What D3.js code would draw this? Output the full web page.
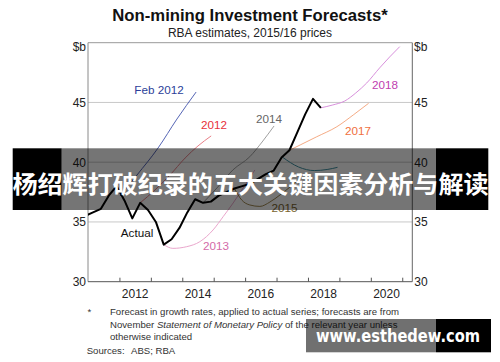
<!DOCTYPE html>
<html><head><meta charset="utf-8">
<script src="https://cdn.jsdelivr.net/npm/d3@7"></script>
<style>body{margin:0;background:#fff}svg{display:block}</style>
</head><body><svg id="c" width="500" height="362"></svg>
<script>
// ---- data ----
const tickYears = [2012, 2013, 2014, 2015, 2016, 2017, 2018, 2019, 2020, 2021];
const labelYears = [2012, 2014, 2016, 2018, 2020];
const yTicks = [30, 35, 40, 45];
const yDomain = [30, 50];
const xDomain = [2011, 2021.32];

const actualDates = [2010.91, 2011.16, 2011.41, 2011.66, 2011.91, 2012.16, 2012.41, 2012.66, 2012.91, 2013.16, 2013.41, 2013.66, 2013.91, 2014.16, 2014.41, 2014.66, 2014.91, 2015.16, 2015.41, 2015.66, 2015.91, 2016.16, 2016.41, 2016.66, 2016.91, 2017.16, 2017.41, 2017.66, 2017.91, 2018.16, 2018.41];
const actualValues = [35.5, 35.8, 36.1, 37.2, 38.0, 36.8, 35.3, 36.6, 36.0, 35.0, 33.1, 33.55, 34.5, 35.8, 36.9, 36.6, 36.7, 37.2, 37.5, 37.8, 38.0, 38.2, 38.6, 39.0, 39.3, 40.4, 41.0, 42.5, 44.0, 45.3, 44.55];

const feb2012Dates = [2012.02, 2012.56, 2013.23, 2013.83, 2014.44];
const feb2012Values = [37.17, 38.93, 41.19, 43.61, 45.87];
const f2012Dates = [2012.66, 2013.13, 2013.61, 2014.09, 2014.50, 2014.92];
const f2012Values = [36.6, 37.67, 38.93, 40.35, 41.36, 42.2];
const f2013Dates = [2013.41, 2013.70, 2014.14, 2014.56, 2014.98, 2015.30, 2015.62, 2016.0, 2016.31];
const f2013Values = [33.1, 32.79, 32.93, 33.35, 34.33, 35.44, 36.59, 38.1, 39.35];
const f2014Dates = [2014.66, 2015.13, 2015.61, 2016.15, 2016.54, 2016.92];
const f2014Values = [36.6, 37.92, 39.35, 40.46, 41.69, 43.03];
const f2015Dates = [2015.66, 2015.89, 2016.15, 2016.47, 2016.79, 2017.11, 2017.43, 2017.75];
const f2015Values = [37.8, 36.84, 36.42, 36.3, 36.67, 37.26, 37.93, 38.68];
const f2016Dates = [2017.2, 2017.7, 2018.2, 2018.61, 2018.94];
const f2016Values = [40.4, 39.6, 39.3, 39.39, 39.57];
const f2017Dates = [2017.41, 2017.75, 2018.28, 2018.92, 2019.44, 2019.93];
const f2017Values = [41.0, 41.44, 42.13, 42.97, 43.95, 44.93];
const f2018Dates = [2018.41, 2018.79, 2019.17, 2019.52, 2019.87, 2020.28, 2020.60, 2020.92];
const f2018Values = [44.55, 44.79, 45.12, 45.79, 46.63, 47.89, 48.81, 49.67];

const seriesNames = ["Feb 2012", "2012", "2013", "2014", "2015", "2016", "2017", "2018"];
const labelDates = [2013.26, 2015.01, 2015.07, 2016.76, 2017.25, null, 2019.59, 2020.45];
const labelValues = [45.71, 42.78, 32.65, 43.28, 35.86, null, 42.28, 46.13];

// ---- drawing ----
const svg = d3.select("#c");
const W = 500, H = 362;
const m = {left: 88, right: 412.3, top: 42.7, bottom: 281.7};
const x = d3.scaleLinear().domain(xDomain).range([m.left, m.right]);
const y = d3.scaleLinear().domain(yDomain).range([m.bottom, m.top]);
const FONT = "'Liberation Sans', Arial, sans-serif";

svg.append("rect").attr("width", W).attr("height", H).attr("fill", "#fff");

// titles
svg.append("text").attr("x", 250).attr("y", 20.6).attr("text-anchor", "middle")
  .attr("font-family", FONT).attr("font-weight", "bold").attr("font-size", 16.7).attr("fill", "#111")
  .text("Non-mining Investment Forecasts*");
svg.append("text").attr("x", 250).attr("y", 36.8).attr("text-anchor", "middle")
  .attr("font-family", FONT).attr("font-size", 12).attr("fill", "#222")
  .text("RBA estimates, 2015/16 prices");

// gridlines
svg.append("g").selectAll("line").data(yTicks.filter(d => d > 30)).join("line")
  .attr("x1", m.left).attr("x2", m.right).attr("y1", d => y(d)).attr("y2", d => y(d))
  .attr("stroke", "#c8c8c8").attr("stroke-width", 1);

// axes via d3
const yLeft = d3.axisLeft(y).tickValues(yTicks).tickSize(0).tickPadding(2).tickFormat(d3.format("d"));
const yRight = d3.axisRight(y).tickValues(yTicks).tickSize(0).tickPadding(2).tickFormat(d3.format("d"));
const gl = svg.append("g").attr("transform", `translate(${m.left},0)`).call(yLeft);
const gr = svg.append("g").attr("transform", `translate(${m.right},0)`).call(yRight);
[gl, gr].forEach(g => {
  g.select(".domain").remove();
  g.selectAll("text").attr("font-family", FONT).attr("font-size", 12).attr("fill", "#222");
});
svg.append("text").attr("x", 86).attr("y", 51).attr("text-anchor", "end")
  .attr("font-family", FONT).attr("font-size", 12).attr("fill", "#222").text("$b");
svg.append("text").attr("x", 414).attr("y", 51)
  .attr("font-family", FONT).attr("font-size", 12).attr("fill", "#222").text("$b");

const xAxis = d3.axisBottom(x).tickValues(tickYears).tickSize(-4).tickFormat("");
const gx = svg.append("g").attr("transform", `translate(0,${m.bottom})`).call(xAxis);
gx.select(".domain").remove();
gx.selectAll("line").attr("stroke", "#555");
svg.append("g").selectAll("text").data(labelYears).join("text")
  .attr("x", d => x(d + 0.5)).attr("y", 298.3).attr("text-anchor", "middle")
  .attr("font-family", FONT).attr("font-size", 12).attr("fill", "#222").text(d => d);

// frame
svg.append("line").attr("x1", m.left).attr("x2", m.right).attr("y1", m.top).attr("y2", m.top).attr("stroke", "#999");
svg.append("line").attr("x1", m.left).attr("x2", m.left).attr("y1", m.top).attr("y2", m.bottom).attr("stroke", "#8a8a8a");
svg.append("line").attr("x1", m.right).attr("x2", m.right).attr("y1", m.top).attr("y2", m.bottom).attr("stroke", "#666");
svg.append("line").attr("x1", m.left).attr("x2", m.right).attr("y1", m.bottom).attr("y2", m.bottom).attr("stroke", "#555");

// lines
svg.append("clipPath").attr("id", "clip").append("rect")
  .attr("x", m.left).attr("y", m.top).attr("width", m.right - m.left).attr("height", m.bottom - m.top);
const plot = svg.append("g").attr("clip-path", "url(#clip)");
const line = d3.line().x(d => x(d[0])).y(d => y(d[1])).curve(d3.curveMonotoneX);
const zip = (a, b) => a.map((d, i) => [d, b[i]]);

const forecasts = [
  {dates: feb2012Dates, values: feb2012Values, color: "#5565b5", label: "#2c3f9a"},
  {dates: f2012Dates, values: f2012Values, color: "#e88088", label: "#e8303a"},
  {dates: f2013Dates, values: f2013Values, color: "#eaa6cc", label: "#d46aa8"},
  {dates: f2014Dates, values: f2014Values, color: "#a0a0a0", label: "#666"},
  {dates: f2015Dates, values: f2015Values, color: "#a08850", label: "#7a6530"},
  {dates: f2016Dates, values: f2016Values, color: "#3f8fa0", label: "#3f8fa0"},
  {dates: f2017Dates, values: f2017Values, color: "#f5ab85", label: "#f07040"},
  {dates: f2018Dates, values: f2018Values, color: "#d890dc", label: "#c040b0"}
];
forecasts.forEach(f => {
  plot.append("path").attr("d", line(zip(f.dates, f.values)))
    .attr("fill", "none").attr("stroke", f.color).attr("stroke-width", 1);
});
plot.append("path").attr("d", d3.line().x(d => x(d[0])).y(d => y(d[1]))(zip(actualDates, actualValues)))
  .attr("fill", "none").attr("stroke", "#000").attr("stroke-width", 2).attr("stroke-linejoin", "round");

// series labels
forecasts.forEach((f, i) => {
  if (labelDates[i] == null) return;
  svg.append("text").attr("x", x(labelDates[i])).attr("y", y(labelValues[i]))
    .attr("text-anchor", "middle").attr("font-family", FONT).attr("font-size", 11.7)
    .attr("fill", f.label).text(seriesNames[i]);
});
svg.append("text").attr("x", 137).attr("y", 237).attr("text-anchor", "middle")
  .attr("font-family", FONT).attr("font-size", 11.7).attr("fill", "#111").text("Actual");

// footnote
const fn = svg.append("g").attr("font-family", FONT).attr("font-size", 9.6).attr("fill", "#333");
fn.append("text").attr("x", 87.5).attr("y", 315).text("*");
fn.append("text").attr("x", 110).attr("y", 315).text("Forecast in growth rates, applied to actual series; forecasts are from");
const l2 = fn.append("text").attr("x", 110).attr("y", 327.5);
l2.append("tspan").text("November ");
l2.append("tspan").attr("font-style", "italic").text("Statement of Monetary Policy");
l2.append("tspan").text(" of the relevant year unless");
fn.append("text").attr("x", 110).attr("y", 339.8).text("otherwise indicated");
fn.append("text").attr("x", 86.7).attr("y", 354).text("Sources:");
fn.append("text").attr("x", 131).attr("y", 354).text("ABS; RBA");

// overlay banner
svg.append("rect").attr("x", 12.7).attr("y", 148.3).attr("width", 49).attr("height", 61.7).attr("fill", "#000");
svg.append("rect").attr("x", 61.7).attr("y", 148.3).attr("width", 374.3).attr("height", 61.7).attr("fill", "rgba(0,0,0,0.54)");
svg.append("rect").attr("x", 436).attr("y", 148.3).attr("width", 52.3).attr("height", 61.7).attr("fill", "#000");
svg.append("text").attr("x", 12.5).attr("y", 182.5).attr("dominant-baseline", "central")
  .attr("font-family", "'Noto Sans CJK SC', sans-serif").attr("font-weight", "bold").attr("font-size", 23.8)
  .attr("textLength", 476).attr("lengthAdjust", "spacingAndGlyphs")
  .attr("fill", "#fff").text("杨绍辉打破纪录的五大关键因素分析与解读");

// watermark
svg.append("rect").attr("x", 306).attr("y", 319).attr("width", 130).attr("height", 33.3).attr("fill", "rgba(0,0,0,0.56)");
svg.append("rect").attr("x", 436).attr("y", 319).attr("width", 55).attr("height", 33.3).attr("fill", "#000");
svg.append("text").attr("x", 316).attr("y", 342).attr("font-family", "'DejaVu Sans', sans-serif")
  .attr("font-weight", "bold").attr("font-size", 17).attr("textLength", 164).attr("lengthAdjust", "spacingAndGlyphs")
  .attr("fill", "#fff").text("www.esthedew.com");
</script></body></html>
